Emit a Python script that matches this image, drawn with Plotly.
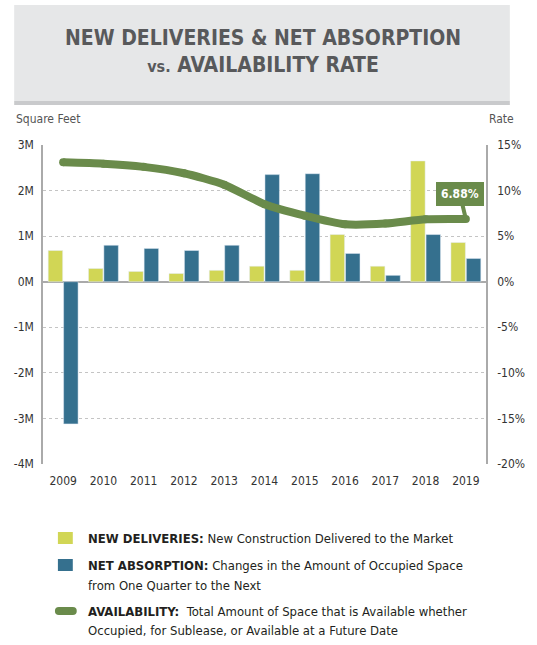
import plotly.graph_objects as go

years = ["2009", "2010", "2011", "2012", "2013", "2014", "2015", "2016", "2017", "2018", "2019"]
new_deliveries = [685000, 290000, 225000, 180000, 250000, 340000, 250000, 1035000, 340000, 2650000, 860000]
net_absorption = [-3120000, 800000, 730000, 685000, 800000, 2350000, 2370000, 620000, 140000, 1035000, 510000]
availability = [13.1, 12.95, 12.6, 11.9, 10.65, 8.5, 7.25, 6.3, 6.38, 6.85, 6.88]

left_tickvals = [-4e6, -3e6, -2e6, -1e6, 0, 1e6, 2e6, 3e6]
left_ticktext = ["-4M", "-3M", "-2M", "-1M", "0M", "1M", "2M", "3M"]
right_tickvals = [-20, -15, -10, -5, 0, 5, 10, 15]
right_ticktext = ["-20%", "-15%", "-10%", "-5%", "0%", "5%", "10%", "15%"]

YELLOW = "#D1D655"
BLUE = "#35708E"
GREEN = "#6A8B4B"
FONT = "Liberation Sans Narrow, Arial Narrow, DejaVu Sans Condensed, sans-serif"

W, H = 537, 645
L, R, T, B = 43, 48, 145, 181
PW, PH = W - L - R, H - T - B


def px(x):
    return (x - L) / PW


def py(y):
    return (H - B - y) / PH


fig = go.Figure()
fig.add_trace(go.Bar(x=years, y=new_deliveries, marker_color=YELLOW, name="New Deliveries"))
fig.add_trace(go.Bar(x=years, y=net_absorption, marker_color=BLUE, name="Net Absorption"))
fig.add_trace(go.Scatter(x=years, y=availability, yaxis="y2", mode="lines+markers",
                         line=dict(color=GREEN, width=8, shape="spline", smoothing=0.6),
                         marker=dict(color=GREEN, size=8), name="Availability"))

shapes = [
    dict(type="rect", xref="paper", yref="paper", x0=px(14), x1=px(513), y0=py(101), y1=py(5),
         fillcolor="#E6E7E8", line=dict(width=0), layer="below"),
    dict(type="rect", xref="paper", yref="paper", x0=px(14), x1=px(513), y0=py(105), y1=py(101),
         fillcolor="#C9CACC", line=dict(width=0), layer="below"),
    dict(type="rect", xref="paper", yref="paper", x0=px(58), x1=px(73), y0=py(544), y1=py(532),
         fillcolor=YELLOW, line=dict(width=0)),
    dict(type="rect", xref="paper", yref="paper", x0=px(58), x1=px(73), y0=py(571), y1=py(559),
         fillcolor=BLUE, line=dict(width=0)),
    dict(type="line", xref="paper", yref="paper", x0=px(59), x1=px(73), y0=py(611), y1=py(611),
         line=dict(color=GREEN, width=8)),
]
for cx in (59, 73):
    shapes.append(dict(type="circle", xref="paper", yref="paper", x0=px(cx - 4), x1=px(cx + 4),
                       y0=py(615), y1=py(607), fillcolor=GREEN, line=dict(width=0)))

LEG = dict(family=FONT, size=13, color="#231F20")


def leg(y, text):
    return dict(xref="paper", yref="paper", x=px(86), y=py(y), xanchor="left", yanchor="middle",
                align="left", text=text, showarrow=False, font=LEG)


last = len(years) - 1

annotations = [
    dict(xref="paper", yref="paper", x=px(264), y=py(52), xanchor="center", yanchor="middle",
         text="<b>NEW DELIVERIES &amp; NET ABSORPTION<br><span style='font-size:16px'>vs.</span> AVAILABILITY RATE</b>",
         showarrow=False, font=dict(family=FONT, size=21, color="#58595B")),
    dict(xref="paper", yref="paper", x=px(14), y=py(119), xanchor="left", yanchor="middle",
         text="Square Feet", showarrow=False, font=dict(family=FONT, size=12, color="#555555")),
    dict(xref="paper", yref="paper", x=px(519), y=py(119), xanchor="right", yanchor="middle",
         text="Rate", showarrow=False, font=dict(family=FONT, size=12, color="#555555")),
    dict(x=last, y=availability[last], xref="x", yref="y2", text="<b>%.2f%%</b>" % availability[last],
         showarrow=True, arrowhead=0, arrowwidth=4, arrowcolor=GREEN, ax=-6, ay=-25, standoff=0,
         bgcolor=GREEN, bordercolor=GREEN, borderpad=4, font=dict(family=FONT, size=12, color="white")),
    leg(538, "<b>NEW DELIVERIES:</b> New Construction Delivered to the Market"),
    leg(565, "<b>NET ABSORPTION:</b> Changes in the Amount of Occupied Space"),
    leg(585, "from One Quarter to the Next"),
    leg(611, "<b>AVAILABILITY:</b>  Total Amount of Space that is Available whether"),
    leg(630, "Occupied, for Sublease, or Available at a Future Date"),
]

fig.update_layout(
    width=W, height=H,
    margin=dict(l=L, r=R, t=T, b=B, pad=0),
    paper_bgcolor="white", plot_bgcolor="white",
    showlegend=False,
    barmode="group", bargap=0.235, bargroupgap=0.06,
    font=dict(family=FONT, size=12, color="#333333"),
    xaxis=dict(type="category", range=[-0.5, len(years) - 0.5], showgrid=False, showline=False,
               ticks="", ticklabelstandoff=8, tickfont=dict(size=12, color="#333333")),
    yaxis=dict(range=[-4e6, 3e6], tickvals=left_tickvals, ticktext=left_ticktext,
               showgrid=True, gridcolor="#C4C4C4", griddash="dot", gridwidth=1,
               zeroline=True, zerolinecolor="#AAAAAA", zerolinewidth=1.5,
               showline=True, linecolor="#AAAAAA", linewidth=1.5, ticks="", ticklabelstandoff=5,
               tickfont=dict(size=12, color="#333333")),
    yaxis2=dict(range=[-20, 15], tickvals=right_tickvals, ticktext=right_ticktext, overlaying="y",
                side="right", showgrid=False, zeroline=False,
                showline=True, linecolor="#AAAAAA", linewidth=1.5, ticks="", ticklabelstandoff=7,
                tickfont=dict(size=12, color="#333333")),
    shapes=shapes,
    annotations=annotations,
)

fig.write_html("out.html", config={"displayModeBar": False},
               post_script="document.body.style.margin='0';")
